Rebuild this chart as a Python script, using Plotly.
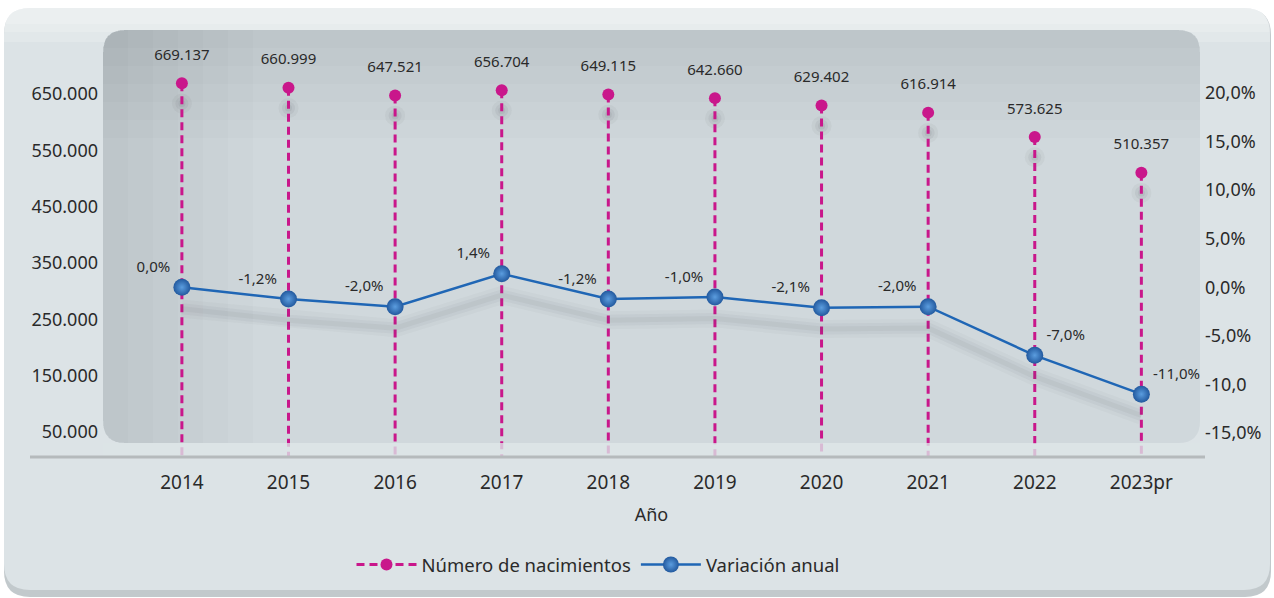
import plotly.graph_objects as go

# ---------------- data ----------------
years = ["2014", "2015", "2016", "2017", "2018", "2019", "2020", "2021", "2022", "2023pr"]
births = [669137, 660999, 647521, 656704, 649115, 642660, 629402, 616914, 573625, 510357]
variation = [0.0, -1.2, -2.0, 1.4, -1.2, -1.0, -2.1, -2.0, -7.0, -11.0]
var_text_pos = ["top left"] * 8 + ["top right", "top right"]

left_ticks = [50000, 150000, 250000, 350000, 450000, 550000, 650000]
right_ticks = [-15, -10, -5, 0, 5, 10, 15, 20]
right_ticktext = ["-15,0%", "-10,0", "-5,0%", "0,0%", "5,0%", "10,0%", "15,0%", "20,0%"]

# ---------------- layout geometry ----------------
W, H = 1274, 598
ML, MR, MT, MB = 103, 74, 30, 141
PW, PH = W - ML - MR, H - MT - MB

def px_x(x):
    return (x - ML) / PW

def px_y(y):
    return (H - MB - y) / PH

Y1_RANGE = [5600, 763600]
Y2_RANGE = [-17.47, 26.49]
BASE = -100000  # below the visible range: stems run to the bottom of the plot

FONT = "Noto Sans"
TXT = "#2a2a2a"
MAGENTA = "#c9178b"
BLUE = "#1f66b5"

def fmt_thousands(v):
    return f"{v:,}".replace(",", ".")

def fmt_pct(v):
    return f"{v:.1f}%".replace(".", ",")

# stems (dashed) + dots in one trace
sx, sy = [], []
for yr, b in zip(years, births):
    sx += [yr, yr, None]
    sy += [b, BASE, None]

fig = go.Figure()

# shadows of the dots
SH = 36000
for sz, op in [(20, 0.05), (13, 0.07), (7, 0.08)]:
    fig.add_trace(go.Scatter(
        x=years, y=[b - SH for b in births], mode="markers",
        marker=dict(size=sz, color=f"rgba(70,75,80,{op})", line=dict(width=0)),
        showlegend=False, hoverinfo="skip", cliponaxis=True))

fig.add_trace(go.Scatter(
    x=sx, y=sy, mode="lines+markers", name="Número de nacimientos",
    line=dict(color=MAGENTA, width=3, dash="8px,5px"),
    marker=dict(size=12, color=MAGENTA, line=dict(width=0)),
    connectgaps=False, cliponaxis=True, hoverinfo="skip"))

# value labels above the dots
fig.add_trace(go.Scatter(
    x=years, y=births, mode="markers+text",
    marker=dict(size=30, color="rgba(0,0,0,0)", line=dict(width=0)),
    text=[fmt_thousands(b) for b in births], textposition="top center",
    textfont=dict(family=FONT, size=15, color=TXT),
    showlegend=False, hoverinfo="skip", cliponaxis=False))

# shadow of the blue line
for w, op in [(18, 0.035), (11, 0.05), (5, 0.06)]:
    fig.add_trace(go.Scatter(
        x=years, y=[v - 2.2 for v in variation], mode="lines", yaxis="y2",
        line=dict(color=f"rgba(80,85,90,{op})", width=w, shape="linear"),
        showlegend=False, hoverinfo="skip"))

fig.add_trace(go.Scatter(
    x=years, y=variation, mode="lines+markers+text", yaxis="y2",
    name="Variación anual",
    line=dict(color=BLUE, width=2.5),
    marker=dict(size=17, color="#22599e",
                gradient=dict(type="radial", color="#5b9ddf"),
                line=dict(width=0)),
    text=[fmt_pct(v) for v in variation], textposition=var_text_pos,
    textfont=dict(family=FONT, size=15, color=TXT),
    cliponaxis=False, hoverinfo="skip"))

# ---------------- background shapes ----------------
shapes = []

def rounded_path(x0, y0, x1, y1, r, corners=(True, True, True, True)):
    # pixel coordinates (y downward); corners: tl, tr, br, bl
    rx = r / PW
    ry = r / PH
    X0, X1 = px_x(x0), px_x(x1)
    Yt, Yb = px_y(y0), px_y(y1)
    tl, tr, br, bl = corners
    p = []
    p.append(f"M {X0 + (rx if tl else 0)},{Yt}")
    if tr:
        p.append(f"L {X1 - rx},{Yt} Q {X1},{Yt} {X1},{Yt - ry}")
    else:
        p.append(f"L {X1},{Yt}")
    if br:
        p.append(f"L {X1},{Yb + ry} Q {X1},{Yb} {X1 - rx},{Yb}")
    else:
        p.append(f"L {X1},{Yb}")
    if bl:
        p.append(f"L {X0 + rx},{Yb} Q {X0},{Yb} {X0},{Yb + ry}")
    else:
        p.append(f"L {X0},{Yb}")
    if tl:
        p.append(f"L {X0},{Yt - ry} Q {X0},{Yt} {X0 + rx},{Yt}")
    else:
        p.append(f"L {X0},{Yt}")
    p.append("Z")
    return " ".join(p)

def add_shape(path, fill, layer="below"):
    shapes.append(dict(type="path", path=path, xref="paper", yref="paper",
                       fillcolor=fill, line=dict(width=0), layer=layer))

# outer card: darker rim then body, lighter top band
add_shape(rounded_path(4, 9, 1271, 597, 26), "#c2c9cc")
add_shape(rounded_path(4, 8, 1270, 590, 26), "#dce3e6")
for h, op in [(34, 0.18), (24, 0.18), (16, 0.18)]:
    add_shape(rounded_path(4, 8, 1270, 8 + h, 26, (True, True, False, False)), f"rgba(255,255,255,{op})")

# inner panel
add_shape(rounded_path(103, 30, 1200, 443, 22), "#d0d8dc")
# left gradient
for w in range(25, 175, 25):
    add_shape(rounded_path(103, 30, 103 + w, 443, 22, (True, False, False, True)), "rgba(0,0,0,0.01)")
# top gradient
for h in range(18, 126, 18):
    add_shape(rounded_path(103, 30, 1200, 30 + h, 22, (True, True, False, False)), "rgba(0,0,0,0.01)")

# stems fade below the panel
shapes.append(dict(type="rect", xref="paper", yref="paper",
                   x0=px_x(103), x1=px_x(1200), y0=px_y(456), y1=px_y(443),
                   fillcolor="rgba(220,227,230,0.8)", line=dict(width=0), layer="above"))

# baseline
shapes.append(dict(type="line", xref="paper", yref="paper",
                   x0=px_x(30), x1=px_x(1205), y0=0, y1=0,
                   line=dict(color="#b5babc", width=3), layer="above"))

fig.update_layout(
    width=W, height=H,
    margin=dict(l=ML, r=MR, t=MT, b=MB, autoexpand=False),
    paper_bgcolor="white", plot_bgcolor="rgba(0,0,0,0)",
    shapes=shapes,
    showlegend=True,
    legend=dict(orientation="h", x=px_x(598), xanchor="center",
                y=px_y(565), yanchor="middle",
                font=dict(family=FONT, size=18.5, color=TXT),
                itemwidth=60, bgcolor="rgba(0,0,0,0)", traceorder="normal"),
    font=dict(family=FONT, color=TXT),
    xaxis=dict(type="category", categoryorder="array", categoryarray=years,
               range=[-0.74, 9.55], showgrid=False, zeroline=False, showline=False,
               ticks="", ticklabelstandoff=12,
               tickfont=dict(family=FONT, size=19, color=TXT),
               title=dict(text="Año", font=dict(family=FONT, size=18, color=TXT), standoff=14)),
    yaxis=dict(range=Y1_RANGE, tickvals=left_ticks,
               ticktext=[fmt_thousands(v) for v in left_ticks],
               showgrid=False, zeroline=False, showline=False, ticks="",
               ticklabelstandoff=4,
               tickfont=dict(family=FONT, size=18, color=TXT)),
    yaxis2=dict(range=Y2_RANGE, overlaying="y", side="right",
                tickvals=right_ticks, ticktext=right_ticktext,
                showgrid=False, zeroline=False, showline=False, ticks="",
                ticklabelstandoff=4,
                tickfont=dict(family=FONT, size=18, color=TXT)),
)

fig.write_html("out.html", config={"displayModeBar": False},
               post_script="document.body.style.margin='0';")
